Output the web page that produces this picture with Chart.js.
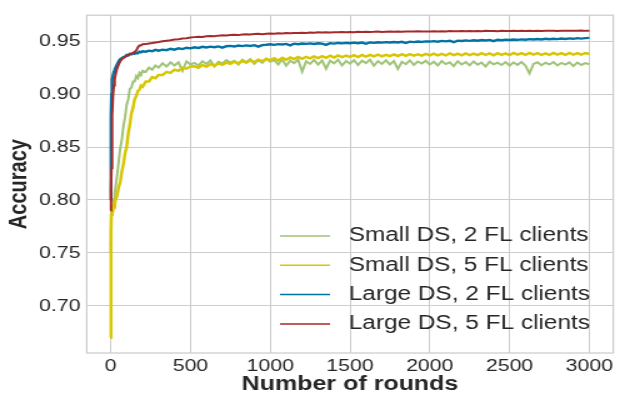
<!DOCTYPE html>
<html lang="en">
<head>
    <meta charset="UTF-8">
    <title>Accuracy vs rounds</title>
    <style>
        html, body {
            margin: 0;
            padding: 0;
            background: #ffffff;
            overflow: hidden;
        }
        /* the reference is stretched sideways, so draw narrow and widen */
        #wrap {
            width: 497px;
            height: 394px;
            transform: scaleX(1.25);
            transform-origin: 0 0;
        }
    </style>
    <script src="https://cdn.jsdelivr.net/npm/chart.js"></script>
</head>
<body>
    <div id="wrap">
        <canvas id="myChart" width="497" height="394"></canvas>
    </div>

    <script>
        // Rounds (x values)
        const rounds = [
            0, 1, 2, 3, 5, 8, 10, 15, 20, 25, 30,
            40, 50, 60, 70, 80, 90, 100, 110, 120, 130, 140, 150, 160, 170, 180, 190, 200,
            220, 240, 260, 280, 300,
            325, 350, 375, 400, 425, 450, 475, 500,
            525, 550, 575, 600, 625, 650, 675, 700, 725, 750,
            775, 800, 825, 850, 875, 900, 925, 950, 975, 1000,
            1025, 1050, 1075, 1100, 1125, 1150, 1175, 1200, 1225, 1250,
            1275, 1300, 1325, 1350, 1375, 1400, 1425, 1450, 1475, 1500,
            1525, 1550, 1575, 1600, 1625, 1650, 1675, 1700, 1725, 1750,
            1775, 1800, 1825, 1850, 1875, 1900, 1925, 1950, 1975, 2000,
            2025, 2050, 2075, 2100, 2125, 2150, 2175, 2200, 2225, 2250,
            2275, 2300, 2325, 2350, 2375, 2400, 2425, 2450, 2475, 2500,
            2525, 2550, 2575, 2600, 2625, 2650, 2675, 2700, 2725, 2750,
            2775, 2800, 2825, 2850, 2875, 2900, 2925, 2950, 2975, 3000
        ];

        // Small DS, 2 FL clients
        const smallDs2 = [
            0.760, 0.750, 0.772, 0.785, 0.790, 0.794, 0.792, 0.798, 0.801, 0.806, 0.812,
            0.823, 0.836, 0.849, 0.857, 0.870, 0.878, 0.890, 0.895, 0.905, 0.906, 0.912, 0.912, 0.917, 0.915, 0.920, 0.918, 0.922,
            0.921, 0.925, 0.923, 0.927, 0.925,
            0.929, 0.926, 0.930, 0.927, 0.930, 0.922, 0.931, 0.928,
            0.9295, 0.9270, 0.9310, 0.9285, 0.9318, 0.9262, 0.9305, 0.9290, 0.9322, 0.9298,
            0.9315, 0.9278, 0.9325, 0.9300, 0.9330, 0.9285, 0.9320, 0.9295, 0.9335, 0.9305,
            0.9320, 0.9280, 0.9328, 0.9268, 0.9315, 0.9292, 0.9325, 0.9212, 0.9310, 0.9285,
            0.9322, 0.9278, 0.9318, 0.9240, 0.9315, 0.9290, 0.9325, 0.9270, 0.9312, 0.9288,
            0.9320, 0.9275, 0.9315, 0.9292, 0.9325, 0.9268, 0.9310, 0.9285, 0.9318, 0.9280,
            0.9312, 0.9238, 0.9305, 0.9282, 0.9318, 0.9275, 0.9308, 0.9288, 0.9315, 0.9278,
            0.9305, 0.9270, 0.9312, 0.9283, 0.9300, 0.9265, 0.9310, 0.9280, 0.9302, 0.9272,
            0.9308, 0.9278, 0.9298, 0.9260, 0.9305, 0.9282, 0.9296, 0.9275, 0.9302, 0.9270,
            0.9298, 0.9276, 0.9303, 0.9268, 0.9195, 0.9285, 0.9300, 0.9272, 0.9296, 0.9280,
            0.9302, 0.9270, 0.9295, 0.9278, 0.9300, 0.9265, 0.9298, 0.9275, 0.9293, 0.9282
        ];

        // Small DS, 5 FL clients
        const smallDs5 = [
            0.670, 0.700, 0.740, 0.770, 0.786, 0.789, 0.792, 0.791, 0.796, 0.795, 0.800,
            0.804, 0.812, 0.817, 0.827, 0.834, 0.844, 0.850, 0.863, 0.871, 0.882, 0.887, 0.895, 0.898, 0.903, 0.904, 0.908, 0.907,
            0.912, 0.912, 0.916, 0.915, 0.918,
            0.918, 0.921, 0.920, 0.923, 0.922, 0.925, 0.924, 0.926,
            0.9262, 0.9248, 0.9275, 0.9258, 0.9284, 0.9266, 0.9290, 0.9277, 0.9298, 0.9285,
            0.9305, 0.9290, 0.9312, 0.9298, 0.9318, 0.9303, 0.9325, 0.9310, 0.9330, 0.9322,
            0.9338, 0.9318, 0.9342, 0.9325, 0.9345, 0.9330, 0.9350, 0.9333, 0.9352, 0.9338,
            0.9356, 0.9340, 0.9358, 0.9343, 0.9362, 0.9346, 0.9365, 0.9349, 0.9363, 0.9351,
            0.9367, 0.9350, 0.9369, 0.9354, 0.9371, 0.9356, 0.9372, 0.9357, 0.9370, 0.9359,
            0.9375, 0.9360, 0.9377, 0.9361, 0.9378, 0.9363, 0.9376, 0.9364, 0.9380, 0.9365,
            0.9382, 0.9366, 0.9380, 0.9365, 0.9384, 0.9368, 0.9381, 0.9366, 0.9385, 0.9369,
            0.9383, 0.9368, 0.9386, 0.9370, 0.9384, 0.9367, 0.9387, 0.9371, 0.9385, 0.9369,
            0.9388, 0.9372, 0.9386, 0.9370, 0.9389, 0.9373, 0.9387, 0.9371, 0.9385, 0.9370,
            0.9388, 0.9372, 0.9387, 0.9371, 0.9389, 0.9373, 0.9386, 0.9372, 0.9388, 0.9379
        ];

        // Large DS, 2 FL clients
        const largeDs2 = [
            0.800, 0.830, 0.860, 0.880, 0.900, 0.910, 0.914, 0.918, 0.921, 0.923, 0.925,
            0.928, 0.931, 0.933, 0.934, 0.935, 0.9355, 0.937, 0.9365, 0.938, 0.9375, 0.9385, 0.938, 0.939, 0.9385, 0.940, 0.9395, 0.9405,
            0.940, 0.941, 0.9405, 0.9418, 0.941,
            0.942, 0.9415, 0.9428, 0.942, 0.9432, 0.9425, 0.9438, 0.9432,
            0.9442, 0.9436, 0.9447, 0.9440, 0.9448, 0.9443, 0.9450, 0.9438, 0.9452, 0.9455,
            0.9449, 0.9458, 0.9453, 0.9460, 0.9455, 0.9462, 0.9448, 0.9463, 0.9466, 0.9470,
            0.9465, 0.9472, 0.9468, 0.9474, 0.9460, 0.9476, 0.9471, 0.9478, 0.9474, 0.9479,
            0.9473, 0.9480, 0.9476, 0.9465, 0.9481, 0.9477, 0.9483, 0.9479, 0.9484, 0.9480,
            0.9486, 0.9481, 0.9487, 0.9475, 0.9488, 0.9484, 0.9490, 0.9486, 0.9491, 0.9487,
            0.9492, 0.9488, 0.9494, 0.9482, 0.9495, 0.9491, 0.9497, 0.9493, 0.9498, 0.9496,
            0.9500, 0.9495, 0.9502, 0.9498, 0.9504, 0.9490, 0.9505, 0.9501, 0.9507, 0.9503,
            0.9508, 0.9504, 0.9510, 0.9506, 0.9512, 0.9500, 0.9513, 0.9509, 0.9514, 0.9511,
            0.9516, 0.9512, 0.9517, 0.9513, 0.9519, 0.9515, 0.9520, 0.9516, 0.9522, 0.9518,
            0.9523, 0.9519, 0.9525, 0.9521, 0.9526, 0.9522, 0.9528, 0.9524, 0.9529, 0.9531
        ];

        // Large DS, 5 FL clients
        const largeDs5 = [
            0.790, 0.795, 0.800, 0.810, 0.830, 0.860, 0.880, 0.900, 0.908, 0.914, 0.918,
            0.924, 0.928, 0.931, 0.933, 0.934, 0.935, 0.936, 0.937, 0.938, 0.938, 0.939, 0.940, 0.941, 0.944, 0.946, 0.946, 0.947,
            0.9472, 0.9478, 0.9482, 0.9488, 0.9492,
            0.9498, 0.9503, 0.9508, 0.9515, 0.9518, 0.9524, 0.9528, 0.9534,
            0.9538, 0.9542, 0.9540, 0.9546, 0.9549, 0.9547, 0.9552, 0.9555, 0.9553, 0.9558,
            0.9560, 0.9557, 0.9563, 0.9565, 0.9562, 0.9567, 0.9569, 0.9566, 0.9570, 0.9572,
            0.9571, 0.9575, 0.9573, 0.9577, 0.9575, 0.9578, 0.9576, 0.9580, 0.9578, 0.9581,
            0.9579, 0.9583, 0.9581, 0.9584, 0.9582, 0.9585, 0.9583, 0.9586, 0.9584, 0.9586,
            0.9585, 0.9588, 0.9586, 0.9589, 0.9587, 0.9588, 0.9590, 0.9587, 0.9589, 0.9590,
            0.9588, 0.9591, 0.9589, 0.9592, 0.9590, 0.9591, 0.9593, 0.9590, 0.9592, 0.9591,
            0.9593, 0.9591, 0.9594, 0.9592, 0.9595, 0.9593, 0.9594, 0.9596, 0.9593, 0.9595,
            0.9594, 0.9596, 0.9594, 0.9597, 0.9595, 0.9596, 0.9594, 0.9597, 0.9595, 0.9596,
            0.9597, 0.9595, 0.9598, 0.9596, 0.9597, 0.9595, 0.9598, 0.9596, 0.9598, 0.9597,
            0.9599, 0.9596, 0.9598, 0.9597, 0.9599, 0.9597, 0.9598, 0.9600, 0.9597, 0.9598
        ];

        const seriesLabels = ['Small DS, 2 FL clients', 'Small DS, 5 FL clients', 'Large DS, 2 FL clients', 'Large DS, 5 FL clients'];
        const seriesColors = ['#9fc377', '#d7c703', '#0272a2', '#a62a2a'];
        const xTicks = [0, 500, 1000, 1500, 2000, 2500, 3000];
        const yTicks = [0.70, 0.75, 0.80, 0.85, 0.90, 0.95];

        const FONT = '"Liberation Sans", Arial, sans-serif';
        const TEXT = '#262626';
        const GRID = '#cccccc';
        // noisy curves look like thick bands in the reference
        const lineWidths = [2, 2.5, 2.4, 2];

        Chart.defaults.font.family = FONT;
        Chart.defaults.color = TEXT;

        function toPoints(values) {
            return values.map((v, i) => ({ x: rounds[i], y: v }));
        }

        const allSeries = [smallDs2, smallDs5, largeDs2, largeDs5];
        const datasets = allSeries.map((vals, i) => ({
            label: seriesLabels[i],
            data: toPoints(vals),
            borderColor: seriesColors[i],
            backgroundColor: seriesColors[i],
            borderWidth: lineWidths[i],
            pointRadius: 0,
            tension: 0,
            fill: false,
            order: allSeries.length - i   // later series on top, like matplotlib
        }));

        // box round the plot area
        const frame = {
            id: 'frame',
            beforeDatasetsDraw(chart) {
                const a = chart.chartArea;
                const ctx = chart.ctx;
                ctx.save();
                ctx.strokeStyle = GRID;
                ctx.lineWidth = 1.25;
                ctx.strokeRect(a.left, a.top, a.right - a.left, a.bottom - a.top);
                ctx.restore();
            }
        };

        // legend drawn inside the plot, lower right
        const insideLegend = {
            id: 'insideLegend',
            afterDatasetsDraw(chart) {
                const ctx = chart.ctx;
                ctx.save();
                ctx.font = '19.5px ' + FONT;
                ctx.textBaseline = 'middle';
                ctx.textAlign = 'left';
                chart.data.datasets.forEach((ds, i) => {
                    const y = 236 + i * 29.3;
                    ctx.strokeStyle = ds.borderColor;
                    ctx.lineWidth = 1.5;
                    ctx.beginPath();
                    ctx.moveTo(224, y);
                    ctx.lineTo(264, y);
                    ctx.stroke();
                    ctx.fillStyle = TEXT;
                    ctx.fillText(ds.label, 279, y);
                });
                ctx.restore();
            }
        };

        const ctx = document.getElementById('myChart').getContext('2d');
        const myChart = new Chart(ctx, {
            type: 'line',
            data: { datasets: datasets },
            options: {
                responsive: false,
                animation: false,
                layout: { padding: { left: 0, right: 6.4, top: 10, bottom: 0 } },
                plugins: {
                    legend: { display: false },
                    tooltip: { enabled: false }
                },
                scales: {
                    x: {
                        type: 'linear',
                        min: -150,
                        max: 3150,
                        afterBuildTicks: (scale) => { scale.ticks = xTicks.map(v => ({ value: v })); },
                        afterFit: (scale) => { scale.height = 41; },
                        grid: { color: GRID, lineWidth: 1, drawTicks: false },
                        border: { display: false },
                        ticks: {
                            padding: 3,
                            font: { size: 17 },
                            color: TEXT,
                            maxRotation: 0,
                            callback: (v) => String(v)
                        },
                        title: {
                            display: true,
                            text: 'Number of rounds',
                            color: TEXT,
                            font: { size: 20, weight: 'bold', lineHeight: 1 },
                            padding: { top: 0, bottom: 0 }
                        }
                    },
                    y: {
                        type: 'linear',
                        min: 0.6555,
                        max: 0.9745,
                        afterBuildTicks: (scale) => { scale.ticks = yTicks.map(v => ({ value: v })); },
                        afterFit: (scale) => { scale.width = 69.4; },
                        grid: { color: GRID, lineWidth: 1, drawTicks: false },
                        border: { display: false },
                        ticks: {
                            padding: 5,
                            font: { size: 17 },
                            color: TEXT,
                            callback: (v) => Number(v).toFixed(2)
                        },
                        title: {
                            display: true,
                            text: 'Accuracy',
                            color: TEXT,
                            font: { size: 20, weight: 'bold', lineHeight: 1 },
                            padding: { top: 5, bottom: 0 }
                        }
                    }
                }
            },
            plugins: [frame, insideLegend]
        });
    </script>
</body>
</html>
